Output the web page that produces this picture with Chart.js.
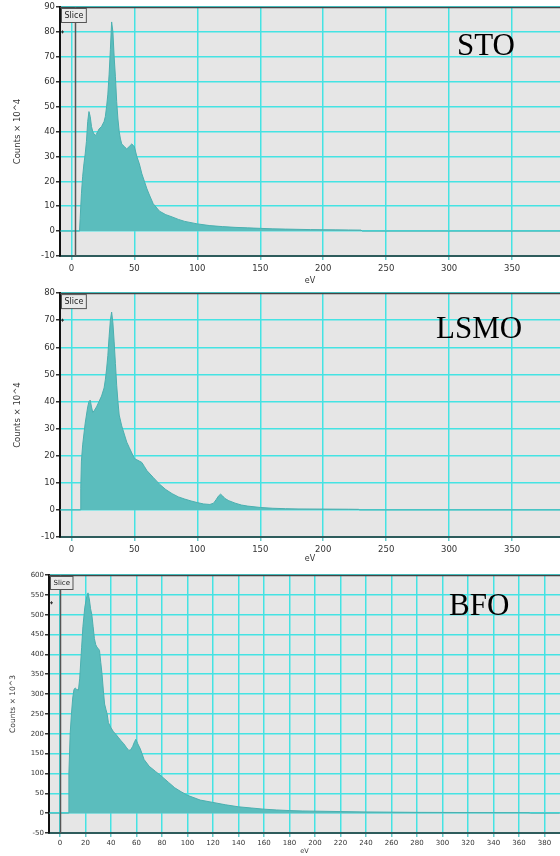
<!DOCTYPE html>
<html><head><meta charset="utf-8">
<script src="https://cdn.jsdelivr.net/npm/chart.js@4.4.0/dist/chart.umd.min.js"></script>
<style>
html,body{margin:0;padding:0;background:#fff;width:560px;height:856px;overflow:hidden;position:relative;}
canvas{position:absolute;left:0;}
.lbl{position:absolute;font-family:"Liberation Serif","Times New Roman",serif;font-size:31px;color:#000;line-height:1;white-space:nowrap;}
</style></head><body>
<canvas id="c1" width="560" height="287" style="top:0px"></canvas>
<canvas id="c2" width="560" height="278" style="top:287px"></canvas>
<canvas id="c3" width="560" height="291" style="top:565px"></canvas>
<div class="lbl" style="left:457px;top:29px">STO</div>
<div class="lbl" style="left:436px;top:312px">LSMO</div>
<div class="lbl" style="left:449px;top:589px">BFO</div>
<script>
// ---- data ----
const stoEV = [-9, 6.5, 7, 8, 9, 10, 11, 12, 13, 14, 15, 16, 17, 18, 19, 20, 21, 22, 24, 26, 27, 28, 29, 30, 31, 32, 33, 34, 35, 36, 37, 38, 39, 40, 42, 44, 46, 48, 49, 50, 52, 54, 56, 58, 60, 62, 65, 70, 75, 80, 85, 90, 95, 100, 110, 120, 130, 140, 150, 160, 170, 180, 190, 200, 210, 220, 230, 231, 388];
const stoCounts = [0, 0, 5, 15, 22, 27, 31, 36, 44, 48, 46, 42, 40, 39, 38.5, 39, 40, 41, 42, 44, 46, 50, 55, 63, 73, 84, 80, 70, 62, 52, 45, 40, 37, 35, 34, 33, 34, 35, 34.5, 34, 30, 27, 23, 20, 17, 14.5, 11, 8, 6.6, 5.7, 4.7, 3.9, 3.4, 2.9, 2.2, 1.8, 1.5, 1.3, 1.1, 0.9, 0.8, 0.7, 0.6, 0.55, 0.5, 0.45, 0.4, 0, 0];

const lsmoEV = [-9, 7, 7.5, 8, 9, 10, 11, 12, 13, 14, 15, 16, 17, 18, 20, 22, 24, 26, 27, 28, 29, 30, 31, 32, 33, 34, 35, 36, 37, 38, 40, 42, 44, 46, 48, 50, 52, 54, 56, 58, 60, 65, 70, 75, 80, 85, 90, 95, 100, 105, 110, 113, 115, 117, 118.5, 120, 122, 125, 130, 135, 140, 150, 160, 170, 180, 200, 220, 228, 229, 388];
const lsmoCounts = [0, 0, 8, 18, 24, 28, 32, 35, 38, 40, 40.5, 38, 36, 36.5, 38, 40, 42, 45, 48, 52, 57, 64, 70, 73, 69, 62, 54, 46, 40, 35, 31, 28, 25, 23, 21, 19, 18.5, 18, 17.5, 16, 14.5, 12, 9.5, 7.5, 6, 4.8, 4, 3.3, 2.7, 2.2, 2, 2.5, 3.8, 5.2, 5.8, 5.2, 4.2, 3.4, 2.5, 1.8, 1.4, 0.9, 0.6, 0.45, 0.35, 0.3, 0.25, 0.2, 0, 0];

const bfoEV = [-9, 6.5, 7, 8, 9, 10, 11, 12, 13, 14.5, 15.5, 17, 18, 19.5, 21, 22, 23, 24, 25, 26, 27, 28, 29, 30, 31, 32, 33, 34, 35, 36, 37, 38, 40, 42, 44, 46, 48, 50, 52, 54, 55.5, 57, 58.5, 59.5, 61, 63, 66, 70, 75, 80, 85, 90, 95, 100, 110, 120, 130, 140, 150, 160, 170, 180, 190, 200, 220, 240, 260, 280, 300, 320, 340, 360, 368, 369, 392];
const bfoCounts = [0, 0, 100, 200, 250, 290, 312, 315, 312, 310, 340, 418, 470, 519, 545, 555, 540, 515, 500, 470, 440, 425, 418, 415, 410, 380, 350, 310, 275, 262, 250, 228, 215, 205, 198, 190, 182, 175, 166, 158, 160, 168, 180, 186, 175, 162, 135, 118, 105, 92, 78, 64, 54, 45, 33, 27, 21, 16, 13, 10, 8, 6.5, 5.5, 5, 4, 3, 2.5, 2, 1.8, 1.5, 1.3, 1.2, 1, 0, 0];

const stoXTicks = [0, 50, 100, 150, 200, 250, 300, 350];
const stoYTicks = [-10, 0, 10, 20, 30, 40, 50, 60, 70, 80, 90];
const lsmoXTicks = [0, 50, 100, 150, 200, 250, 300, 350];
const lsmoYTicks = [-10, 0, 10, 20, 30, 40, 50, 60, 70, 80];
const bfoXTicks = [0, 20, 40, 60, 80, 100, 120, 140, 160, 180, 200, 220, 240, 260, 280, 300, 320, 340, 360, 380];
const bfoYTicks = [-50, 0, 50, 100, 150, 200, 250, 300, 350, 400, 450, 500, 550, 600];

const stoTitle = 'Counts × 10^4';
const lsmoTitle = 'Counts × 10^4';
const bfoTitle = 'Counts × 10^3';

// ---- drawing ----
const FILL = '#5bbdbd';
const GRID = '#45e3e3';

const deco = {
  id: 'deco',
  beforeDraw(chart, args, o) {
    const {ctx, chartArea: a} = chart;
    ctx.save();
    ctx.fillStyle = '#e6e6e6';
    ctx.fillRect(a.left, a.top, a.right - a.left, a.bottom - a.top);
    ctx.restore();
  },
  afterDraw(chart, args, o) {
    const {ctx, chartArea: a, scales} = chart;
    ctx.save();
    ctx.strokeStyle = '#444'; ctx.lineWidth = 1.5;
    ctx.beginPath(); ctx.moveTo(a.left, a.top + 0.5); ctx.lineTo(a.right, a.top + 0.5); ctx.stroke();
    if (o.cursor !== null) {
      const x = Math.round(scales.x.getPixelForValue(o.cursor)) + 0.5;
      ctx.strokeStyle = '#555'; ctx.lineWidth = 1.5;
      ctx.beginPath(); ctx.moveTo(x, a.top); ctx.lineTo(x, a.bottom); ctx.stroke();
    }
    const my = scales.y.getPixelForValue(o.marker);
    ctx.strokeStyle = '#333'; ctx.lineWidth = 1;
    ctx.beginPath(); ctx.moveTo(a.left + 1, my); ctx.lineTo(a.left + 4, my);
    ctx.moveTo(a.left + 2.5, my - 1.5); ctx.lineTo(a.left + 2.5, my + 1.5); ctx.stroke();
    ctx.font = o.sliceFont + 'px "DejaVu Sans", sans-serif';
    const tw = ctx.measureText('Slice').width;
    const bw = tw + 6, bh = o.sliceFont + 6;
    ctx.fillStyle = '#e9e9e9';
    ctx.fillRect(a.left + 1, a.top + 1, bw, bh);
    ctx.strokeStyle = '#555'; ctx.lineWidth = 1;
    ctx.strokeRect(a.left + 1.5, a.top + 1.5, bw, bh);
    ctx.fillStyle = '#222'; ctx.textBaseline = 'middle'; ctx.textAlign = 'left';
    ctx.fillText('Slice', a.left + 4.5, a.top + 1.5 + bh / 2);
    ctx.restore();
  }
};

function makeChart(id, ev, counts, xTicks, yTicks, yTitle, cfg) {
  const pts = ev.map((x, i) => ({x: x, y: counts[i]}));
  return new Chart(document.getElementById(id), {
    type: 'line',
    data: {datasets: [{
      data: pts, borderColor: '#4bb0b0', borderWidth: 1,
      backgroundColor: FILL, fill: 'origin', pointRadius: 0, tension: 0
    }]},
    options: {
      responsive: false, animation: false, devicePixelRatio: 1,
      layout: {padding: {top: cfg.padTop, left: 0, right: 0, bottom: 0}},
      plugins: {legend: {display: false}, tooltip: {enabled: false},
        deco: {cursor: cfg.cursor, marker: cfg.marker, sliceFont: cfg.sliceFont}},
      scales: {
        x: {
          type: 'linear', min: cfg.xMin, max: cfg.xMax,
          afterBuildTicks: s => { s.ticks = xTicks.map(v => ({value: v})); },
          afterFit: s => { s.height = cfg.xH; },
          grid: {color: GRID, lineWidth: 1.5, tickColor: '#6cc', tickLength: 4, drawTicks: true},
          border: {color: '#2e5c5c', width: 2},
          ticks: {font: {family: 'DejaVu Sans', size: cfg.fs}, color: '#333', padding: cfg.xPad, maxRotation: 0, autoSkip: false},
          title: {display: true, text: 'eV', font: {family: 'DejaVu Sans', size: cfg.fs - 0.5}, color: '#333', padding: {top: 0, bottom: 1}}
        },
        y: {
          type: 'linear', min: yTicks[0], max: yTicks[yTicks.length - 1],
          afterBuildTicks: s => { s.ticks = yTicks.map(v => ({value: v})); },
          afterFit: s => { s.width = cfg.yW; },
          grid: {color: GRID, lineWidth: 1.5, tickColor: '#333', tickLength: 4, drawTicks: true},
          border: {color: '#111', width: 2},
          ticks: {font: {family: 'DejaVu Sans', size: cfg.fs}, color: '#333', padding: 1, autoSkip: false},
          title: {display: true, text: yTitle, font: {family: 'DejaVu Sans', size: cfg.ytfs}, color: '#333', padding: {top: cfg.yTitlePad, bottom: 0}}
        }
      }
    },
    plugins: [deco]
  });
}

makeChart('c1', stoEV, stoCounts, stoXTicks, stoYTicks, stoTitle,
  {padTop: 7, xMin: -9, xMax: 388, xH: 31, yW: 60, fs: 8.5, ytfs: 8.5, xPad: 4, yTitlePad: 13, cursor: 3.2, marker: 80, sliceFont: 8});
makeChart('c2', lsmoEV, lsmoCounts, lsmoXTicks, lsmoYTicks, lsmoTitle,
  {padTop: 2, xMin: -9, xMax: 388, xH: 28, yW: 60, fs: 8.5, ytfs: 8.5, xPad: 4, yTitlePad: 13, cursor: null, marker: 70, sliceFont: 8});
makeChart('c3', bfoEV, bfoCounts, bfoXTicks, bfoYTicks, bfoTitle,
  {padTop: 10, xMin: -8.6, xMax: 392.2, xH: 23, yW: 49, fs: 7, ytfs: 7.5, xPad: 2, yTitlePad: 9, cursor: 0, marker: 530, sliceFont: 7});
</script>
</body></html>
